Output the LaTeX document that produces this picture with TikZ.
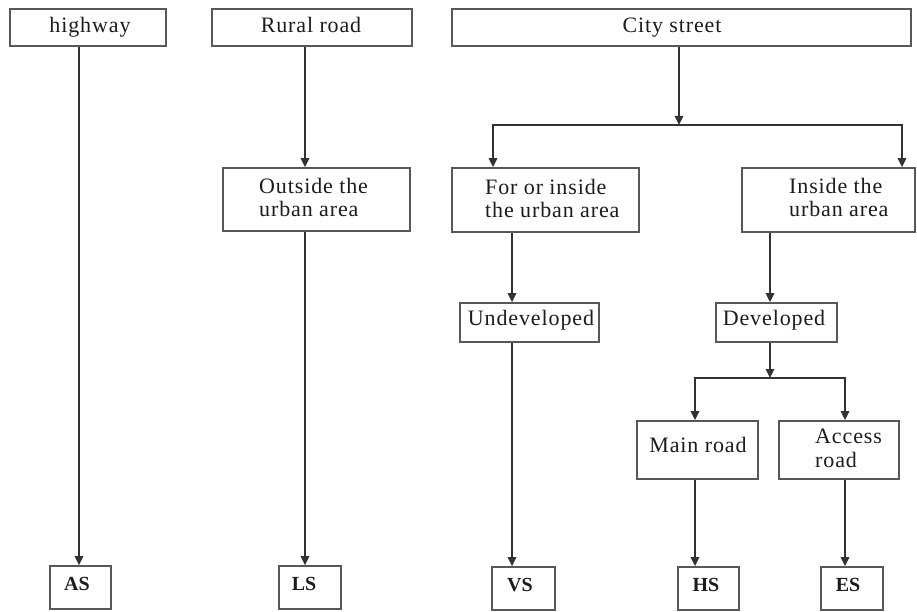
\documentclass[tikz,border=0pt]{standalone}
\usepackage{fontspec}
\newfontfamily\lblfont{Liberation Serif}[LetterSpace=4]
\newfontfamily\codefont{Liberation Serif}
\usetikzlibrary{arrows.meta,fit}

\definecolor{boxgray}{RGB}{88,88,88}
\definecolor{linegray}{RGB}{50,50,50}
\definecolor{txt}{RGB}{28,28,28}

\tikzset{
  box/.style={draw=boxgray, line width=1.8pt, fill=white, inner sep=0pt},
  lbl/.style={inner sep=0pt, text=txt, font=\lblfont\fontsize{22}{24}\selectfont},
  code/.style={inner sep=0pt, text=txt, font=\codefont\bfseries\fontsize{20}{22}\selectfont},
  link/.style={draw=linegray, line width=1.6pt},
  arr/.style={link, -{Triangle[length=9pt,width=8.5pt]}},
}

\begin{document}
\begin{tikzpicture}[x=1pt,y=-1pt]
\useasboundingbox (0,0) rectangle (917,612);

% column positions of the vertical connectors
\coordinate (c1) at (79,0);
\coordinate (c2) at (305,0);
\coordinate (c3) at (512,0);
\coordinate (c4) at (770,0);
\coordinate (c5) at (695,0);
\coordinate (c6) at (845,0);
\coordinate (c7) at (493,0);
\coordinate (c8) at (902,0);
% branching points
\coordinate (j1) at (679,125);
\coordinate (j2) at (770,378);

% boxes
\node[box, fit={(10,9) (166,46)}] (hw) {};
\node[box, fit={(212,9) (412,46)}] (rural) {};
\node[box, fit={(452,9) (911,46)}] (city) {};
\node[box, fit={(223,168) (410,231)}] (out) {};
\node[box, fit={(452,168) (639,232)}] (forb) {};
\node[box, fit={(742,168) (915,232)}] (insb) {};
\node[box, fit={(460,303) (599,342)}] (undev) {};
\node[box, fit={(716,303) (837,342)}] (dev) {};
\node[box, fit={(637,421) (758,479)}] (main) {};
\node[box, fit={(779,421) (899,479)}] (acc) {};
\node[box, fit={(50,566) (111,609)}] (as) {};
\node[box, fit={(279,566) (341,609)}] (ls) {};
\node[box, fit={(492,567) (555,610)}] (vs) {};
\node[box, fit={(678,567) (739,610)}] (hs) {};
\node[box, fit={(821,567) (883,610)}] (es) {};

% box texts
\node[lbl, anchor=base] (hw-t) at (90,33) {highway};
\node[lbl, anchor=base] (rural-t) at (311,33) {Rural road};
\node[lbl, anchor=base] (city-t) at (672,33) {City street};
\node[lbl, anchor=base west] (out-t1) at (259,194) {Outside the};
\node[lbl, anchor=base west] (out-t2) at (259,217) {urban area};
\node[lbl, anchor=base west] (forb-t1) at (485,195) {For or inside};
\node[lbl, anchor=base west] (forb-t2) at (485,218) {the urban area};
\node[lbl, anchor=base west] (insb-t1) at (789,194) {Inside the};
\node[lbl, anchor=base west] (insb-t2) at (789,217) {urban area};
\node[lbl, anchor=base] (undev-t) at (531,325) {Undeveloped};
\node[lbl, anchor=base] (dev-t) at (774,325) {Developed};
\node[lbl, anchor=base] (main-t) at (698,452) {Main road};
\node[lbl, anchor=base west] (acc-t1) at (815,443) {Access};
\node[lbl, anchor=base west] (acc-t2) at (815,467) {road};
\node[code, anchor=base] (as-t) at (77,590) {AS};
\node[code, anchor=base] (ls-t) at (304,590) {LS};
\node[code, anchor=base] (vs-t) at (520,591) {VS};
\node[code, anchor=base] (hs-t) at (706,591) {HS};
\node[code, anchor=base] (es-t) at (848,591) {ES};

% highway
\draw[arr] (c1 |- hw.south) -- (c1 |- as.north);
% rural road
\draw[arr] (c2 |- rural.south) -- (c2 |- out.north);
\draw[arr] (c2 |- out.south) -- (c2 |- ls.north);
% city street
\draw[arr] (j1 |- city.south) -- (j1);
\draw[arr] (j1) -| (c7 |- forb.north);
\draw[arr] (j1) -| (c8 |- insb.north);
\draw[arr] (c3 |- forb.south) -- (c3 |- undev.north);
\draw[arr] (c3 |- undev.south) -- (c3 |- vs.north);
\draw[arr] (c4 |- insb.south) -- (c4 |- dev.north);
\draw[arr] (j2 |- dev.south) -- (j2);
\draw[arr] (j2) -| (c5 |- main.north);
\draw[arr] (j2) -| (c6 |- acc.north);
\draw[arr] (c5 |- main.south) -- (c5 |- hs.north);
\draw[arr] (c6 |- acc.south) -- (c6 |- es.north);
\end{tikzpicture}
\end{document}
